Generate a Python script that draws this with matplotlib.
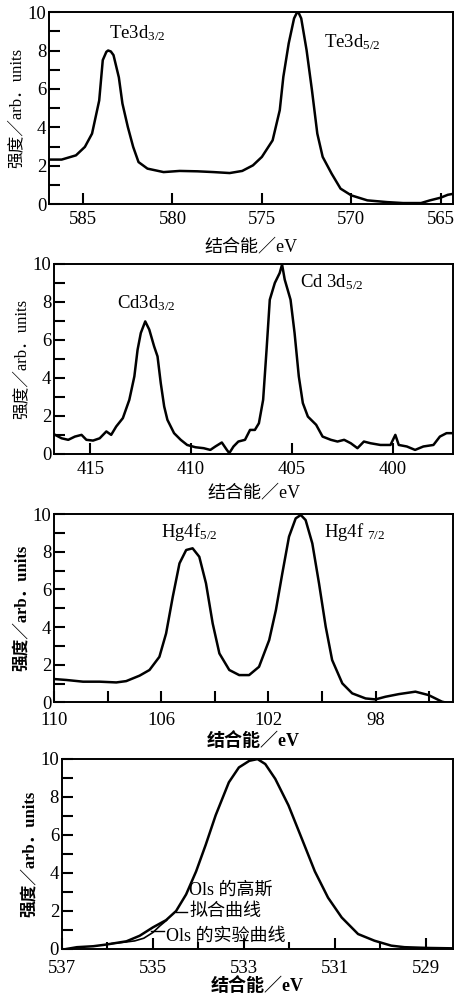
import matplotlib
matplotlib.use('Agg')
import matplotlib.pyplot as plt
from matplotlib.ticker import FixedLocator

plt.rcParams['font.family'] = ['Liberation Serif', 'Noto Sans CJK SC']
plt.rcParams['mathtext.fontset'] = 'custom'
plt.rcParams['mathtext.rm'] = 'Liberation Serif'
plt.rcParams['mathtext.it'] = 'Liberation Serif:italic'
plt.rcParams['axes.unicode_minus'] = False

# Te 3d spectrum
te_x = [586.9, 586.2, 585.4, 584.9, 584.5, 584.1, 583.9, 583.7, 583.6, 583.45, 583.3, 583.0,
        582.8, 582.5, 582.2, 581.9, 581.4, 580.5, 579.6, 578.6, 577.7, 576.8,
        576.1, 575.5, 575.0, 574.4, 574.0, 573.8, 573.5, 573.2, 573.05, 572.95, 572.8,
        572.5, 572.2, 571.9, 571.6, 571.1, 570.6, 570.0, 569.1, 568.0, 567.1,
        566.1, 565.6, 565.0, 564.6, 564.3]
te_y = [2.33, 2.33, 2.55, 2.99, 3.68, 5.4, 7.5, 7.93, 8.0, 7.95, 7.76, 6.6,
        5.24, 4.03, 2.99, 2.2, 1.86, 1.68, 1.74, 1.72, 1.68, 1.63,
        1.74, 2.03, 2.47, 3.33, 4.9, 6.63, 8.37, 9.67, 9.95, 9.97, 9.67,
        8.02, 5.94, 3.68, 2.47, 1.6, 0.82, 0.47, 0.21, 0.12, 0.07,
        0.07, 0.21, 0.35, 0.5, 0.55]
te_ticks = [585, 580, 575, 570, 565]

# Cd 3d spectrum
cd_x = [416.75, 416.43, 416.1, 415.77, 415.44, 415.2, 414.87, 414.54, 414.21, 413.97,
        413.72, 413.39, 413.07, 412.82, 412.66, 412.5, 412.28, 412.08, 411.84, 411.67,
        411.51, 411.34, 411.18, 410.85, 410.52, 410.2, 409.79, 409.38, 409.05, 408.8,
        408.48, 408.23, 408.11, 407.9, 407.66, 407.33, 407.08, 406.84, 406.64, 406.43,
        406.26, 406.1, 405.85, 405.61, 405.49, 405.36, 405.07, 404.87, 404.66, 404.46,
        404.21, 403.8, 403.48, 403.07, 402.74, 402.41, 402.08, 401.75, 401.43, 401.1,
        400.61, 400.11, 399.87, 399.7, 399.3, 398.89, 398.48, 397.98, 397.66, 397.33,
        397.0]
cd_y = [1.0, 0.82, 0.74, 0.91, 1.0, 0.74, 0.7, 0.82, 1.18, 1.0,
        1.44, 1.88, 2.84, 4.07, 5.47, 6.35, 6.96, 6.53, 5.65, 5.12,
        3.72, 2.49, 1.79, 1.09, 0.74, 0.47, 0.35, 0.3, 0.21, 0.39,
        0.6, 0.21, 0.04, 0.39, 0.65, 0.74, 1.26, 1.26, 1.61, 2.84,
        5.47, 8.1, 8.98, 9.5, 9.95, 9.16, 8.1, 6.35, 4.07, 2.67,
        1.96, 1.53, 0.91, 0.74, 0.65, 0.74, 0.56, 0.3, 0.65, 0.56,
        0.47, 0.47, 1.0, 0.47, 0.39, 0.21, 0.39, 0.47, 0.91, 1.09,
        1.09]
cd_ticks = [415, 410, 405, 400]

# Hg 4f spectrum
hg_x = [110.0, 109.54, 108.92, 108.3, 107.68, 107.31, 106.81, 106.44, 106.07, 105.82,
        105.57, 105.32, 105.07, 104.83, 104.58, 104.33, 104.08, 103.83, 103.46, 103.09,
        102.72, 102.35, 101.97, 101.72, 101.48, 101.23, 100.98, 100.79, 100.61, 100.36,
        100.11, 99.86, 99.62, 99.24, 98.87, 98.37, 98.0, 97.63, 97.13, 96.51,
        96.02, 95.52, 95.4]
hg_y = [1.24, 1.19, 1.1, 1.1, 1.06, 1.13, 1.42, 1.72, 2.42, 3.66,
        5.61, 7.38, 8.09, 8.18, 7.73, 6.32, 4.19, 2.6, 1.72, 1.45,
        1.45, 1.89, 3.31, 4.9, 6.85, 8.8, 9.77, 9.95, 9.68, 8.44,
        6.32, 4.02, 2.25, 1.01, 0.48, 0.21, 0.16, 0.3, 0.44, 0.57,
        0.39, 0.04, 0.0]
hg_ticks = [110, 106, 102, 98]
hg_minor = [108, 104, 100, 96]

# O 1s spectrum: Gaussian fit and experimental curve
o_fit_x = [536.89, 536.67, 536.31, 536.02, 535.58, 535.29, 535.0, 534.71, 534.49, 534.27,
           534.05, 533.84, 533.62, 533.33, 533.11, 532.88, 532.7, 532.53, 532.31, 532.02,
           531.73, 531.44, 531.15, 530.85, 530.49, 530.13, 529.76, 529.47, 528.96, 528.42]
o_fit_y = [0.0, 0.09, 0.14, 0.23, 0.4, 0.69, 1.13, 1.51, 1.99, 2.86,
           4.07, 5.46, 7.02, 8.75, 9.53, 9.88, 9.97, 9.71, 8.93, 7.54,
           5.81, 4.07, 2.69, 1.65, 0.78, 0.43, 0.17, 0.09, 0.05, 0.03]
o_exp_x = [535.9, 535.6, 535.4, 535.2, 535.0, 534.85, 534.7]
o_exp_y = [0.28, 0.36, 0.42, 0.56, 0.86, 1.2, 1.5]
o_ticks = [537, 535, 533, 531, 529]
o_minor = [536, 534, 532, 530]

fig = plt.figure(figsize=(4.55, 10.02), dpi=100)

ylabel = '强度／arb．units'
xlabel = '结合能／eV'
fs = 13.5


def style(ax, xlim, ticks, minor=None, bold=False, minor_len=8, xpad=4, lpad=7):
    ax.set_xlim(*xlim)
    ax.set_ylim(0, 10)
    ax.xaxis.set_major_locator(FixedLocator(ticks))
    if minor:
        ax.xaxis.set_minor_locator(FixedLocator(minor))
    ax.yaxis.set_major_locator(FixedLocator([0, 2, 4, 6, 8, 10]))
    ax.yaxis.set_minor_locator(FixedLocator([1, 3, 5, 7, 9]))
    ax.tick_params(which='both', direction='in', width=1.5, labelsize=fs,
                   top=False, right=False)
    ax.tick_params(which='major', length=8)
    ax.tick_params(axis='x', which='major', pad=xpad)
    ax.tick_params(axis='x', which='minor', length=minor_len)
    ax.tick_params(axis='y', which='minor', length=8)
    ax.tick_params(axis='y', pad=2)
    for s in ax.spines.values():
        s.set_linewidth(1.4)
    w = 'bold' if bold else 'normal'
    ax.set_xlabel(xlabel, fontsize=13, fontweight=w, labelpad=lpad)
    ax.set_ylabel(ylabel, fontsize=12, fontweight=w, labelpad=2)


lw = 1.8
kw = dict(color='black', lw=lw, solid_joinstyle='round')

ax1 = fig.add_axes([0.108, 0.796, 0.888, 0.192])
ax1.plot(te_x, te_y, **kw)
style(ax1, (586.9, 564.3), te_ticks, xpad=5, lpad=7)
ax1.text(583.55, 8.9, r'Te3d$_{\mathrm{3/2}}$', fontsize=fs, va='center')
ax1.text(571.5, 8.45, r'Te3d$_{\mathrm{5/2}}$', fontsize=fs, va='center')

ax2 = fig.add_axes([0.119, 0.547, 0.877, 0.190])
ax2.plot(cd_x, cd_y, **kw)
style(ax2, (416.8, 397.0), cd_ticks, xpad=5, lpad=5)
ax2.text(413.7, 7.93, r'Cd3d$_{\mathrm{3/2}}$', fontsize=fs, va='center')
ax2.text(404.62, 9.04, r'Cd 3d$_{\mathrm{5/2}}$', fontsize=fs, va='center')

ax3 = fig.add_axes([0.119, 0.299, 0.877, 0.188])
ax3.plot(hg_x, hg_y, **kw)
style(ax3, (110, 95.1), hg_ticks, hg_minor, bold=True, xpad=7, lpad=2)
ax3.text(106.0, 9.06, r'Hg4f$_{\mathrm{5/2}}$', fontsize=fs, va='center')
ax3.text(99.93, 9.06, r'Hg4f $_{\mathrm{7/2}}$', fontsize=fs, va='center')

ax4 = fig.add_axes([0.136, 0.053, 0.860, 0.190])
ax4.plot(o_fit_x, o_fit_y, **kw)
ax4.plot(o_exp_x, o_exp_y, color='black', lw=1.2)
style(ax4, (537, 528.4), o_ticks, o_minor, bold=True, minor_len=5, xpad=8, lpad=0)
ax4.text(534.2, 3.07, 'Ols 的高斯', fontsize=13, va='center')
ax4.text(534.2, 1.99, '拟合曲线', fontsize=13, va='center')
ax4.plot([534.49, 534.26], [1.96, 1.96], color='black', lw=1)
ax4.text(534.72, 0.66, 'Ols 的实验曲线', fontsize=13, va='center')
ax4.plot([535.04, 534.76], [0.92, 0.92], color='black', lw=1)

fig.savefig('out.png', dpi=100)
